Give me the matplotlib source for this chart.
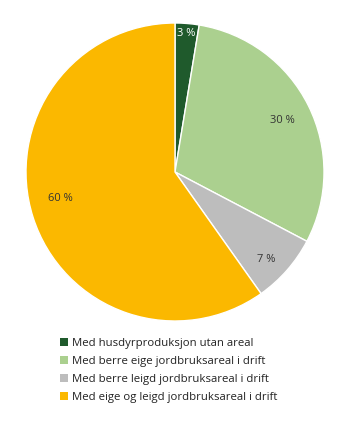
import numpy as np
import matplotlib
matplotlib.use("Agg")
from matplotlib import pyplot as plt
from matplotlib.patches import Patch

plt.rcParams['font.family'] = ['Open Sans', 'DejaVu Sans']

# data
categories = ['Med husdyrproduksjon utan areal',
              'Med berre eige jordbruksareal i drift',
              'Med berre leigd jordbruksareal i drift',
              'Med eige og leigd jordbruksareal i drift']
shares = [2.6, 30.1, 7.5, 59.8]
labels = ['3 %', '30 %', '7 %', '60 %']
colors = ['#1f5a2c', '#abd08f', '#bdbdbd', '#fbb800']

fig = plt.figure(figsize=(3.45, 4.25), dpi=100)
ax = fig.add_axes([26 / 345, 1 - 321 / 425, 298 / 345, 298 / 425])

wedges, _ = ax.pie(shares, colors=colors, startangle=90, counterclock=False,
                   radius=1, wedgeprops=dict(edgecolor='white', linewidth=1))

# labels inside the slices
dist = [0.93, 0.80, 0.85, 0.79]
nudge = [0, -1, -2.5, -4.4]
txtcol = ['white', '#333333', '#333333', '#333333']
for w, lab, d, n, tc in zip(wedges, labels, dist, nudge, txtcol):
    ang = np.deg2rad((w.theta1 + w.theta2) / 2 + n)
    ax.text(d * np.cos(ang), d * np.sin(ang), lab, ha='center', va='center',
            fontsize=8, color=tc)

ax.set_xlim(-1, 1)
ax.set_ylim(-1, 1)
ax.set_aspect('equal')
ax.axis('off')

handles = [Patch(facecolor=c, edgecolor='none') for c in colors]
fig.legend(handles, categories, loc='upper left',
           bbox_to_anchor=(55 / 345, 1 - 333 / 425), frameon=False,
           fontsize=8.2, handlelength=0.7, handleheight=0.7,
           handletextpad=0.4, labelspacing=0.62, borderaxespad=0,
           labelcolor='#222222')

fig.savefig('out.png', dpi=100, facecolor='white')
